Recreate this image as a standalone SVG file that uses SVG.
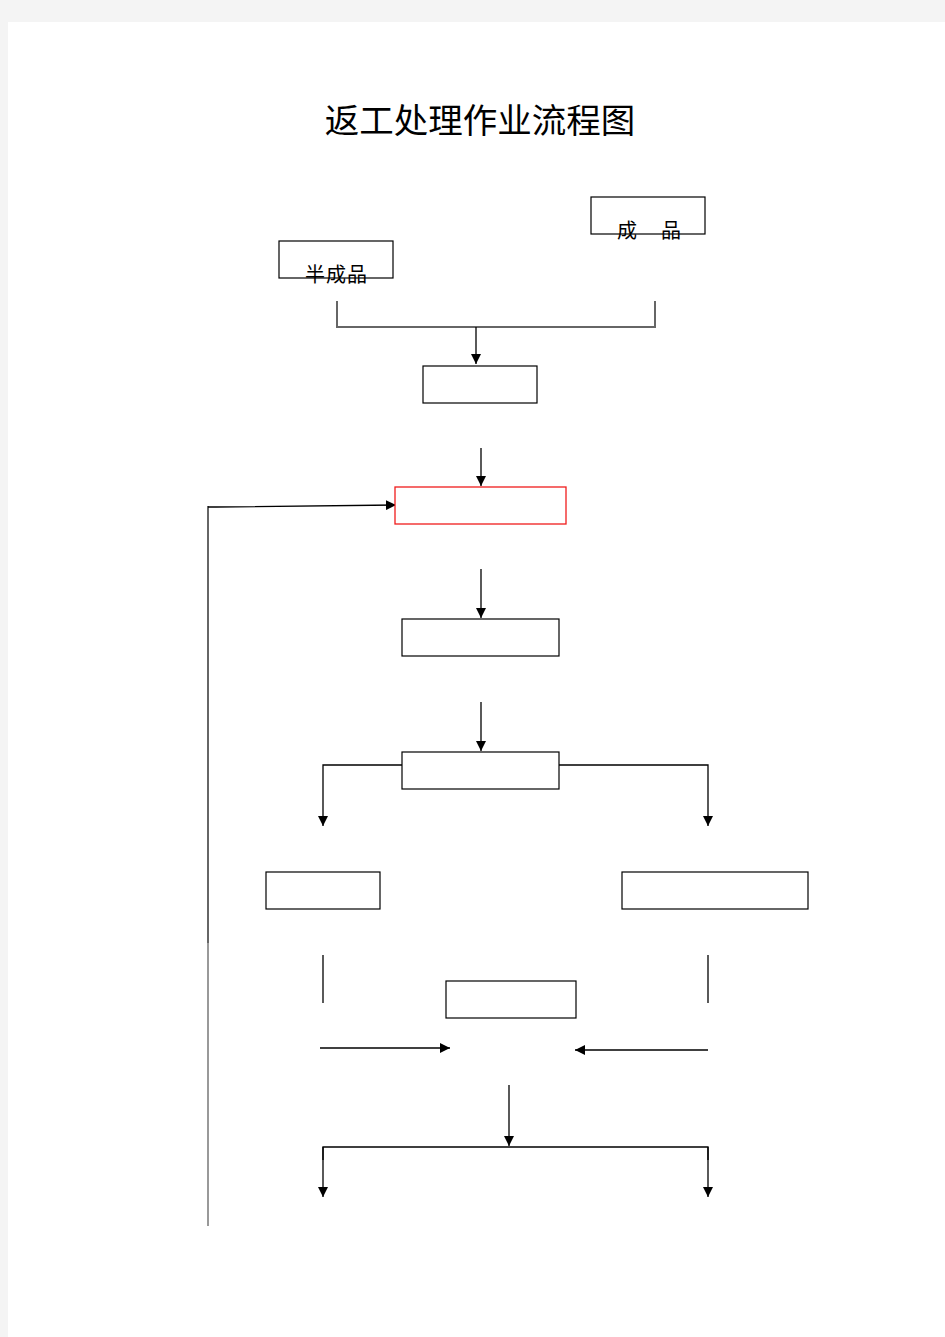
<svg xmlns="http://www.w3.org/2000/svg" width="945" height="1337" viewBox="0 0 945 1337">
<defs>
<marker id="ah" viewBox="0 0 10 10" refX="10" refY="5" markerWidth="10" markerHeight="10" markerUnits="userSpaceOnUse" orient="auto">
<path d="M0,0 L10,5 L0,10 Z" fill="#000"/>
</marker>
</defs>
<style>
.box{fill:#fff;stroke:#000;stroke-width:1.2}
.red{fill:#fff;stroke:#f01c1c;stroke-width:1.3}
.ln{fill:none;stroke:#000;stroke-width:1.3}
.arr{fill:none;stroke:#000;stroke-width:1.3;marker-end:url(#ah)}
.t{font-family:"Liberation Serif","Noto Sans CJK SC",serif;fill:#000}
</style>
<rect x="0" y="0" width="945" height="1337" fill="#f4f4f4"/>
<rect x="8" y="22" width="937" height="1315" fill="#fff"/>
<text class="t" x="480" y="133" font-size="34.5" text-anchor="middle">返工处理作业流程图</text>

<g id="connectors">
<path d="M337,301 V327 H655 V301" fill="none" stroke="#666" stroke-width="2"/>
<line class="arr" x1="476" y1="327" x2="476" y2="364"/>
<line class="arr" x1="481" y1="448" x2="481" y2="486"/>
<line class="arr" x1="481" y1="569" x2="481" y2="618"/>
<line class="arr" x1="481" y1="702" x2="481" y2="751"/>
<path class="arr" d="M402,765 H323 V826"/>
<path class="arr" d="M559,765 H708 V826"/>
<line class="ln" x1="323" y1="955" x2="323" y2="1003"/>
<line class="ln" x1="708" y1="955" x2="708" y2="1003"/>
<line class="arr" x1="320" y1="1048" x2="450" y2="1048"/>
<line class="arr" x1="708" y1="1050" x2="575" y2="1050"/>
<line class="arr" x1="509" y1="1085" x2="509" y2="1146"/>
<path class="ln" d="M323,1160 V1147 H708 V1160"/>
<line class="arr" x1="323" y1="1147" x2="323" y2="1197"/>
<line class="arr" x1="708" y1="1147" x2="708" y2="1197"/>
<line x1="208" y1="506" x2="208" y2="943" stroke="#333" stroke-width="1.5"/>
<line x1="208" y1="943" x2="208" y2="1226" stroke="#999" stroke-width="2"/>
<path class="arr" d="M208,507 H216 L396,505" stroke="#222"/>
</g>

<g id="n-semi"><rect class="box" x="279" y="241" width="114" height="37"/><text class="t" x="305" y="282" font-size="20" letter-spacing="1">半成品</text></g>
<g id="n-finished"><rect class="box" x="591" y="197" width="114" height="37"/><text class="t" x="617" y="238" font-size="20">成</text><text class="t" x="661" y="238" font-size="20">品</text></g>
<g id="n3"><rect class="box" x="423" y="366" width="114" height="37"/></g>
<g id="n4"><rect class="red" x="395" y="487" width="171" height="37"/></g>
<g id="n5"><rect class="box" x="402" y="619" width="157" height="37"/></g>
<g id="n6"><rect class="box" x="402" y="752" width="157" height="37"/></g>
<g id="n7"><rect class="box" x="266" y="872" width="114" height="37"/></g>
<g id="n8"><rect class="box" x="622" y="872" width="186" height="37"/></g>
<g id="n9"><rect class="box" x="446" y="981" width="130" height="37"/></g>
</svg>
